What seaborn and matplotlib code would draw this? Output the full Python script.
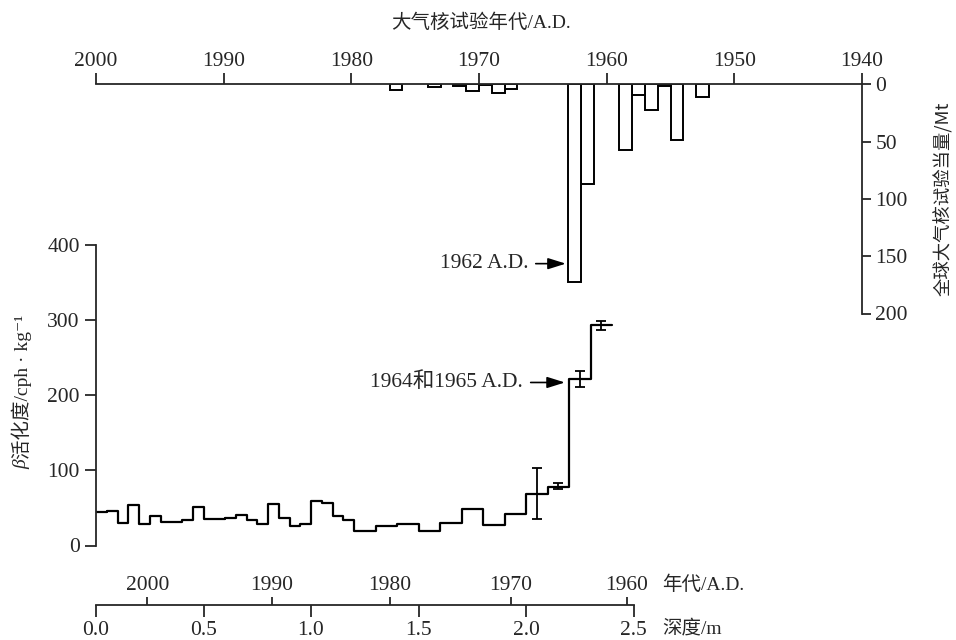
import numpy as np
import matplotlib
matplotlib.use("Agg")
import matplotlib.pyplot as plt
import seaborn as sns

# ---------------- data ----------------
# atmospheric nuclear tests (year, yield in Mt)
test_years = [1976, 1973, 1971, 1970, 1969, 1968, 1967,
              1962, 1961, 1958, 1957, 1956, 1955, 1954, 1952]
test_yields = [4.7, 2.3, 1.5, 5.8, 1.0, 7.6, 3.8,
               172.5, 86.8, 57.3, 9.1, 22.8, 1.5, 48.9, 10.9]
top_year_ticks = [2000, 1990, 1980, 1970, 1960, 1950, 1940]
yield_ticks = [0, 50, 100, 150, 200]

# beta activity profile (depth bin edges in m, activity cph/kg)
depth_edges = [0.00, 0.05, 0.10, 0.15, 0.20, 0.25, 0.30, 0.35, 0.40, 0.45,
               0.50, 0.55, 0.60, 0.65, 0.70, 0.75, 0.80, 0.85, 0.90, 0.95,
               1.00, 1.05, 1.10, 1.15, 1.20, 1.30, 1.40, 1.50, 1.60, 1.70,
               1.80, 1.90, 2.00, 2.10, 2.20, 2.30, 2.40]
activity = [44, 46, 30, 54, 29, 39, 31, 31, 34, 51,
            35, 35, 37, 40, 34, 29, 55, 36.5, 26, 29,
            59, 57, 39, 34, 19, 26.5, 28.6, 19.3, 30, 48.2,
            27.3, 41.5, 69, 78.5, 222, 293]
err_depth = [2.05, 2.15, 2.25, 2.35]
err_value = [69, 79.4, 222, 293]
err_size = [33.5, 4.2, 10.5, 6.2]
activity_ticks = [0, 100, 200, 300, 400]
depth_ticks = [0.0, 0.5, 1.0, 1.5, 2.0, 2.5]
depth_tick_labels = ["0.0", "0.5", "1.0", "1.5", "2.0", "2.5"]
age_tick_labels = ["2000", "1990", "1980", "1970", "1960"]
age_tick_depths = [0.239, 0.817, 1.367, 1.929, 2.468]

# ---------------- style ----------------
sns.set_style("ticks")
plt.rcParams["font.family"] = ["Liberation Serif", "Noto Sans CJK SC", "DejaVu Sans"]
plt.rcParams["axes.linewidth"] = 1.3
FS = 15.5
W, H = 956, 640
fig = plt.figure(figsize=(W / 100, H / 100), dpi=100)

def fx(px):
    return px / W

def fy(py):
    return 1 - py / H

# ---------------- top: nuclear tests ----------------
ax_top = fig.add_axes([fx(96), fy(313.5), fx(862) - fx(96), fy(84.3) - fy(313.5)])
ax_top.patch.set_visible(False)
sns.barplot(x=np.array(test_years) + 0.5, y=test_yields, native_scale=True,
            orient="x", width=1.0, color="white", edgecolor="black",
            linewidth=1.4, errorbar=None, ax=ax_top)
ax_top.set_xlim(2000, 1940)
ax_top.set_ylim(200, 0)
ax_top.set_xticks(top_year_ticks)
ax_top.set_xticklabels([str(t) for t in top_year_ticks])
ax_top.set_yticks(yield_ticks)
ax_top.xaxis.tick_top()
ax_top.yaxis.tick_right()
for s in ["left", "bottom"]:
    ax_top.spines[s].set_visible(False)
ax_top.tick_params(axis="x", direction="out", length=7.7, width=1.3, pad=2, labelsize=FS)
ax_top.tick_params(axis="y", direction="out", length=6.5, width=1.3, pad=3, labelsize=FS)
ax_top.set_xlabel("")
ax_top.set_ylabel("")
ax_top.annotate("1962 A.D.", xy=(1963.2, 156.5), xytext=(-27, 0),
                textcoords="offset points", ha="right", va="center", fontsize=FS,
                arrowprops=dict(arrowstyle="-|>,head_length=0.7,head_width=0.22",
                                color="black", lw=1.2, shrinkA=3, shrinkB=0))

# ---------------- bottom: beta activity ----------------
ax_bot = fig.add_axes([fx(96), fy(545.5), fx(633.5) - fx(96), fy(245) - fy(545.5)])
ax_bot.patch.set_visible(False)
step_x = depth_edges
step_y = activity + [activity[-1]]
sns.lineplot(x=step_x, y=step_y, drawstyle="steps-post", estimator=None,
             color="black", lw=1.6, ax=ax_bot)
ax_bot.errorbar(err_depth, err_value, yerr=err_size, fmt="none", ecolor="black",
                elinewidth=1.3, capsize=3.6, capthick=1.3)
ax_bot.set_xlim(0, 2.5)
ax_bot.set_ylim(0, 400)
ax_bot.set_yticks(activity_ticks)
ax_bot.set_xticks([])
for s in ["top", "right", "bottom"]:
    ax_bot.spines[s].set_visible(False)
ax_bot.tick_params(axis="y", direction="out", length=7.7, width=1.3, pad=4, labelsize=FS)
ax_bot.annotate("1964和1965 A.D.", xy=(2.181, 217), xytext=(-30, 0),
                textcoords="offset points", ha="right", va="center", fontsize=FS,
                arrowprops=dict(arrowstyle="-|>,head_length=0.7,head_width=0.22",
                                color="black", lw=1.2, shrinkA=3, shrinkB=0))

# ---------------- bottom double axis: depth / age ----------------
ax_ax = fig.add_axes([fx(96), fy(605), fx(633.5) - fx(96), 0.0001])
ax_ax.patch.set_visible(False)
ax_ax.set_xlim(0, 2.5)
ax_ax.set_yticks([])
for s in ["top", "left", "right"]:
    ax_ax.spines[s].set_visible(False)
ax_ax.set_xticks(depth_ticks)
ax_ax.set_xticklabels(depth_tick_labels)
ax_ax.tick_params(axis="x", direction="out", length=8.4, width=1.3, pad=3, labelsize=FS)

ax_age = ax_ax.twiny()
ax_age.set_xlim(0, 2.5)
for s in ["top", "left", "right", "bottom"]:
    ax_age.spines[s].set_visible(False)
ax_age.set_xticks(age_tick_depths)
ax_age.set_xticklabels(age_tick_labels)
ax_age.tick_params(axis="x", direction="out", length=5.8, width=1.3, pad=1, labelsize=FS)

# ---------------- labels ----------------
fig.text(fx(480.5), fy(23), "大气核试验年代/A.D.", ha="center", va="center", fontsize=14)
fig.text(fx(943), fy(198.5), "全球大气核试验当量/Mt", ha="center", va="center",
         rotation=90, fontsize=13.2, family=["Noto Sans CJK SC", "DejaVu Sans"])
fig.text(fx(22), fy(459), "活化度/cph · kg⁻¹", ha="center", va="bottom",
         rotation=90, fontsize=14)
fig.text(fx(22), fy(459), "β", ha="center", va="top", rotation=90,
         fontsize=14, fontstyle="italic")
fig.text(fx(662), fy(585), "年代/A.D.", ha="left", va="center", fontsize=14)
fig.text(fx(662), fy(628), "深度/m", ha="left", va="center", fontsize=14)

fig.savefig("out.png", dpi=100)
